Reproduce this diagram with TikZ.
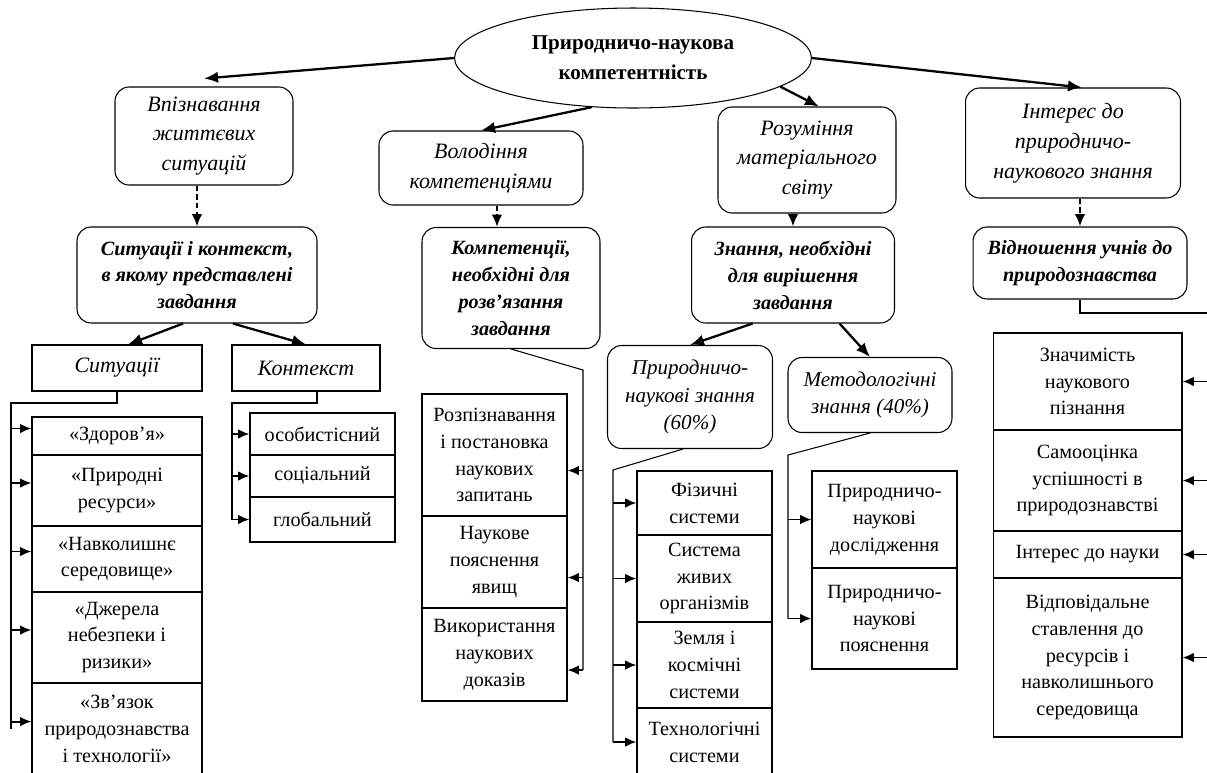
\documentclass[tikz,border=0pt]{standalone}
\usepackage{fontspec}
\setmainfont{Liberation Serif}
\usetikzlibrary{arrows.meta,shapes.geometric}

\begin{document}
\begin{tikzpicture}[x=0.02cm, y=-0.02cm,
  topbox/.style={draw, line width=.6pt, rounded corners=8pt, align=center,
    inner sep=2pt, font=\fontsize{12.5}{17}\selectfont\itshape},
  midbox/.style={draw, line width=.6pt, rounded corners=8pt, align=center,
    inner sep=2pt, font=\fontsize{11.5}{15.3}\selectfont\bfseries\itshape},
  subbox/.style={draw, line width=.6pt, align=center, inner sep=2pt,
    font=\fontsize{12.5}{16}\selectfont\itshape},
  leaf/.style={draw, line width=.6pt, align=center, inner xsep=2pt,
    inner ysep=1pt, font=\fontsize{11.5}{15.3}\selectfont},
  bigarrow/.style={arrows={-Latex[length=8pt,width=6.5pt]}, line width=1.3pt},
  dasharrow/.style={arrows={-Latex[length=7pt,width=6pt]}, line width=1.3pt,
    dash pattern=on 3pt off 2pt},
  bus/.style={line width=.6pt},
  branch/.style={arrows={-Latex[length=6.5pt,width=5.5pt]}, line width=1.1pt}]
\useasboundingbox (0,0) rectangle (1207,772);
\clip (0,0) rectangle (1207,772);

\node[draw, line width=.6pt, ellipse, minimum width=7.14cm, minimum height=2cm,
  inner sep=0pt, align=center, font=\fontsize{12}{17}\selectfont\bfseries]
  at (633,58) (comp) {Природничо-наукова\\компетентність};

\node[topbox, minimum width=3.56cm, minimum height=1.96cm] at (204,136) (life)
  {Впізнавання\\життєвих\\ситуацій};
\node[topbox, minimum width=4.08cm, minimum height=1.48cm] at (481,168) (own)
  {Володіння\\компетенціями};
\node[topbox, minimum width=3.56cm, minimum height=2.12cm] at (807,160) (world)
  {Розуміння\\матеріального\\світу};
\node[topbox, minimum width=4.30cm, minimum height=2.20cm] at (1073,143) (interest)
  {Інтерес до\\природничо-\\наукового знання};

\node[midbox, minimum width=4.8cm, minimum height=1.92cm] at (197,275) (context)
  {Ситуації і контекст,\\в якому представлені\\завдання};
\node[midbox, minimum width=3.56cm, minimum height=2.42cm] at (511,288) (compet)
  {Компетенції,\\необхідні для\\розв’язання\\завдання};
\node[midbox, minimum width=4.06cm, minimum height=1.92cm] at (793,275) (know)
  {Знання, необхідні\\для вирішення\\завдання};
\node[midbox, minimum width=4.28cm, minimum height=1.44cm] at (1080,263) (attit)
  {Відношення учнів до\\природознавства};

\node[subbox, minimum width=3.4cm, minimum height=0.92cm] at (117,368) (sit) {Ситуації};
\node[subbox, minimum width=2.96cm, minimum height=0.92cm] at (306,368) (cont) {Контекст};
\node[subbox, rounded corners=8pt, minimum width=3.3cm, minimum height=2.06cm,
  font=\fontsize{12}{15.5}\selectfont\itshape]
  at (690,397) (natk) {Природничо-\\наукові знання\\(60\%)};
\node[subbox, rounded corners=8pt, minimum width=3.28cm, minimum height=1.5cm,
  font=\fontsize{12}{15.5}\selectfont\itshape]
  at (870,395) (meth) {Методологічні\\знання (40\%)};

\node[leaf, minimum width=3.4cm, minimum height=0.76cm] at (117,436) (s1) {«Здоров'я»};
\node[leaf, minimum width=3.4cm, minimum height=1.42cm] at (117,490.5) (s2) {«Природні\\ресурси»};
\node[leaf, minimum width=3.4cm, minimum height=1.32cm] at (117,559) (s3) {«Навколишнє\\середовище»};
\node[leaf, minimum width=3.4cm, minimum height=1.82cm] at (117,637.5) (s4) {«Джерела\\небезпеки і\\ризики»};
\node[leaf, minimum width=3.4cm, minimum height=1.84cm] at (117,729) (s5) {«Зв'язок\\природознавства\\і технології»};

\node[leaf, minimum width=2.9cm, minimum height=0.84cm] at (322.5,434) (c1) {особистісний};
\node[leaf, minimum width=2.9cm, minimum height=0.84cm] at (322.5,476) (c2) {соціальний};
\node[leaf, minimum width=2.9cm, minimum height=0.9cm] at (322.5,519.5) (c3) {глобальний};

\node[leaf, minimum width=2.9cm, minimum height=2.44cm] at (494.5,455) (k1) {Розпізнавання\\і постановка\\наукових\\запитань};
\node[leaf, minimum width=2.9cm, minimum height=1.84cm] at (494.5,562) (k2) {Наукове\\пояснення\\явищ};
\node[leaf, minimum width=2.9cm, minimum height=1.86cm] at (494.5,654.5) (k3) {Використання\\наукових\\доказів};

\node[leaf, minimum width=2.7cm, minimum height=1.28cm] at (704.5,503) (p1) {Фізичні\\системи};
\node[leaf, minimum width=2.7cm, minimum height=1.74cm] at (704.5,578.5) (p2) {Система\\живих\\організмів};
\node[leaf, minimum width=2.7cm, minimum height=1.72cm] at (704.5,665) (p3) {Земля і\\космічні\\системи};
\node[leaf, minimum width=2.7cm, minimum height=1.36cm] at (704.5,742) (p4) {Технологічні\\системи};

\node[leaf, minimum width=2.9cm, minimum height=1.94cm] at (884.5,519.5) (m1) {Природничо-\\наукові\\дослідження};
\node[leaf, minimum width=2.9cm, minimum height=2.02cm] at (884.5,618.5) (m2) {Природничо-\\наукові\\пояснення};

\node[leaf, minimum width=3.78cm, minimum height=1.94cm] at (1087.5,381.5) (a1) {Значимість\\наукового\\пізнання};
\node[leaf, minimum width=3.78cm, minimum height=2.02cm] at (1087.5,480.5) (a2) {Самооцінка\\успішності в\\природознавстві};
\node[leaf, minimum width=3.78cm, minimum height=0.94cm] at (1087.5,554.5) (a3) {Інтерес до науки};
\node[leaf, minimum width=3.78cm, minimum height=3.18cm] at (1087.5,657.5) (a4) {Відповідальне\\ставлення до\\ресурсів і\\навколишнього\\середовища};

% from the ellipse
\draw[bigarrow] (comp.west) -- ([yshift=0.16cm]life.north);
\draw[bigarrow] (comp.230) -- (own.north);
\draw[bigarrow] (comp.-11) -- ([xshift=0.24cm]world.north);
\draw[bigarrow] (comp.east) -- ([xshift=0.18cm]interest.north);

\draw[dasharrow] (context.north |- life.south) -- (context.north);
\draw[dasharrow] ([xshift=0.32cm]own.south) -- ([xshift=0.32cm]own.south |- compet.north);
\draw[dasharrow] (know.north |- world.south) -- (know.north);
\draw[dasharrow] (attit.north |- interest.south) -- (attit.north);

\draw[bigarrow] ([xshift=-0.28cm]context.south) -- ([xshift=0.22cm]sit.north);
\draw[bigarrow] ([xshift=0.72cm]context.south) -- (cont.north);
\draw[bigarrow] ([xshift=-0.81cm]know.south) -- (natk.north);
\draw[bigarrow] ([xshift=0.93cm]know.south) -- (meth.north);

% buses to the lists
\coordinate (sbus) at (11,403);
\coordinate (cbus) at (232,403);
\coordinate (kbus) at (583,370);
\coordinate (pbus) at (613,470);
\coordinate (mbus) at (788,455);
\coordinate (abus) at (1210,313);

\draw[bus] (sit.south) |- (sbus) -- (sbus |- s5.west);
\foreach \n in {s1,s2,s3,s4,s5}
  \draw[branch] (sbus |- \n.175) -- (\n.175);

\draw[bus] ([xshift=0.22cm]cont.south) |- (cbus) -- (cbus |- c3.west);
\foreach \n in {c1,c2,c3}
  \draw[branch] (cbus |- \n.west) -- (\n.west);

\draw[bus] (compet.south) -- (kbus) -- (kbus |- k3.-12);
\foreach \n in {k1,k2,k3}
  \draw[branch] (kbus |- \n.-12) -- (\n.-12);

\draw[bus] ([xshift=-0.14cm]natk.south) -- (pbus) -- (pbus |- p4.west);
\foreach \n in {p1,p2,p3,p4}
  \draw[branch] (pbus |- \n.west) -- (\n.west);

\draw[bus] (meth.south) -- (mbus) -- (mbus |- m2.west);
\foreach \n in {m1,m2}
  \draw[branch] (mbus |- \n.west) -- (\n.west);

\draw[bus] (attit.south) |- (abus) -- (abus |- a4.east);
\foreach \n in {a1,a2,a3,a4}
  \draw[branch] (abus |- \n.east) -- (\n.east);
\end{tikzpicture}
\end{document}
